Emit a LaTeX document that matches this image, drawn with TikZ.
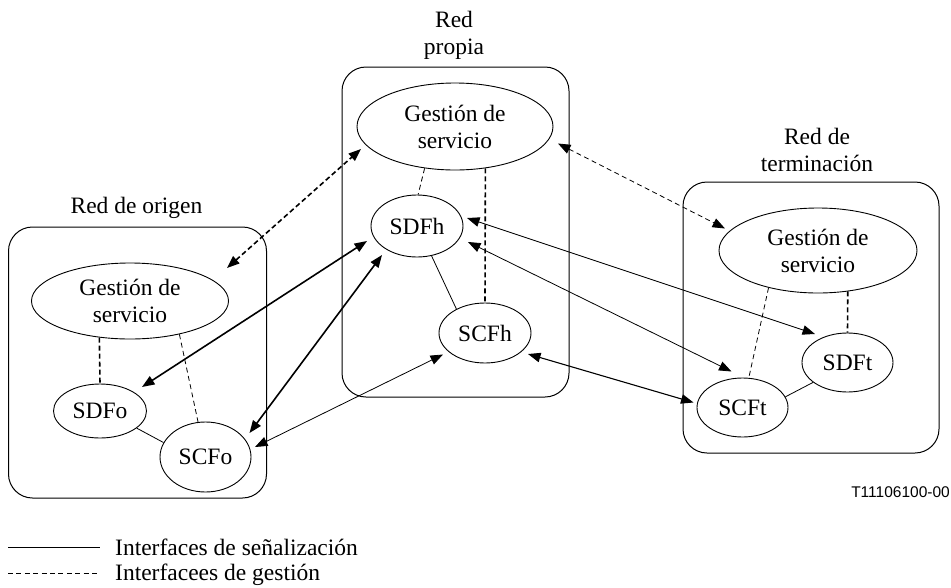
\documentclass[tikz,border=0pt]{standalone}
\usepackage{fontspec}
\setmainfont{Liberation Serif}
\newfontfamily\labelsans{Liberation Sans}
\usetikzlibrary{shapes.geometric,arrows.meta}

\begin{document}
\begin{tikzpicture}[x=1pt,y=-1pt,
  every node/.style={font=\fontsize{23.5}{27}\selectfont},
  func/.style={draw, ellipse, line width=0.9pt, inner sep=0pt, align=center},
  netbox/.style={draw, rounded corners=24pt, line width=1pt, inner sep=0pt},
  arrowboth/.style={{Triangle[length=12.5pt,width=9.5pt]}-{Triangle[length=12.5pt,width=9.5pt]}},
  sig/.style={arrowboth, line width=0.8pt},
  sigmid/.style={arrowboth, line width=1.1pt},
  sigthick/.style={arrowboth, line width=1.6pt},
  mgmt/.style={dash pattern=on 5pt off 3.5pt, line width=0.8pt},
  mgmtthick/.style={dash pattern=on 5pt off 3pt, line width=1.6pt},
  link/.style={line width=0.8pt},
]
\useasboundingbox (0,0) rectangle (951,587);

% network domains
\node[netbox, minimum width=258pt, minimum height=271pt] (origen) at (137.5,362.5) {};
\node[netbox, minimum width=227pt, minimum height=330pt] (propia) at (455.5,232) {};
\node[netbox, minimum width=256pt, minimum height=271pt] (termin) at (811,317.5) {};

\node (lblO) at (136.5,208) {Red de origen};
\node[align=center] (lblM) at (454,35) {Red\\propia};
\node[align=center] (lblT) at (817,150) {Red de\\terminación};

% functional entities
\node[func, minimum width=197pt, minimum height=76pt] (GO) at (130,301) {Gestión de\\servicio};
\node[func, minimum width=196pt, minimum height=87pt] (GM) at (455,126.5) {Gestión de\\servicio};
\node[func, minimum width=198pt, minimum height=85pt] (GT) at (818,250.5) {Gestión de\\servicio};

\node[func, minimum width=93pt, minimum height=54pt] (SDFo) at (100,411) {SDFo};
\node[func, minimum width=91pt, minimum height=70pt] (SCFo) at (205.5,457) {SCFo};
\node[func, minimum width=92pt, minimum height=62pt] (SDFh) at (417,226) {SDFh};
\node[func, minimum width=92pt, minimum height=60pt] (SCFh) at (485,333) {SCFh};
\node[func, minimum width=91pt, minimum height=59pt] (SDFt) at (847.5,362.5) {SDFt};
\node[func, minimum width=91pt, minimum height=59pt] (SCFt) at (742.5,407.5) {SCFt};

% links inside each network
\draw[mgmtthick] (GO.230) -- (SDFo.north);
\draw[mgmt] (GO.326) -- (SCFo.102);
\draw[link] (SDFo.335) -- (SCFo.161);

\draw[mgmt] (GM.234) -- (SDFh.88);
\draw[mgmtthick] (GM.306) -- (SCFh.north);
\draw[link] (SDFh.296) -- (SCFh.140);

\draw[mgmt] (GT.217) -- (SCFt.78);
\draw[mgmtthick] (GT.306) -- (SDFt.north);
\draw[link] (SCFt.14) -- (SDFt.210);

% management interfaces between networks
\draw[mgmtthick, arrowboth] ([shift={(97,-33)}]GO.center) -- ([shift={(-94,22.5)}]GM.center);
\draw[mgmt, arrowboth] ([shift={(103,17)}]GM.center) -- ([shift={(-93,-22)}]GT.center);

% signalling interfaces between networks
\draw[sigthick] ([shift={(42,-24)}]SDFo.center) -- ([shift={(-50,15)}]SDFh.center);
\draw[sigthick] ([shift={(44,-24)}]SCFo.center) -- ([shift={(-35,29)}]SDFh.center);
\draw[sig] ([shift={(49.5,-10)}]SCFo.center) -- ([shift={(-42,21.5)}]SCFh.center);
\draw[sig] ([shift={(50,-8)}]SDFh.center) -- ([shift={(-32.5,-28.5)}]SDFt.center);
\draw[sig] ([shift={(51,16)}]SDFh.center) -- ([shift={(-11,-36)}]SCFt.center);
\draw[sigmid] ([shift={(43,21)}]SCFh.center) -- ([shift={(-49,-5)}]SCFt.center);

% figure reference
\node[anchor=base east, inner sep=0pt, font=\labelsans\fontsize{15.5}{18}\selectfont] (ref) at (950,497) {T11106100-00};

% legend
\coordinate (legS1) at (8,547);
\coordinate (legS2) at (100,547);
\coordinate (legD1) at (8,573);
\coordinate (legD2) at (100,573);
\draw[link] (legS1) -- (legS2);
\draw[link, dash pattern=on 5pt off 3.4pt] (legD1) -- (legD2);
\node[anchor=base west, inner sep=0pt] (legStxt) at (115,555) {Interfaces de señalización};
\node[anchor=base west, inner sep=0pt] (legDtxt) at (115,580) {Interfacees de gestión};
\end{tikzpicture}
\end{document}
